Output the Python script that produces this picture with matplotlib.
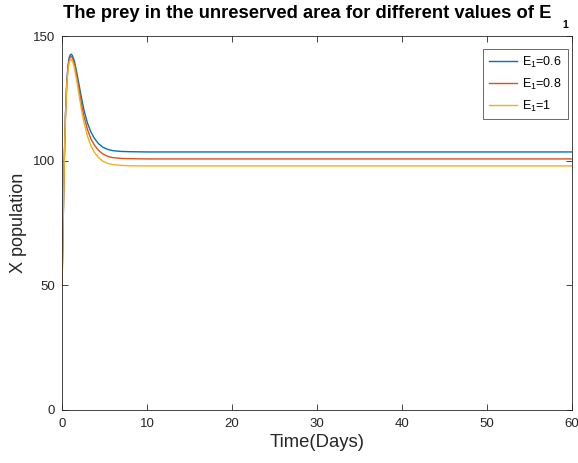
import numpy as np
import matplotlib.pyplot as plt

plt.rcParams['font.family'] = 'Liberation Sans'
plt.rcParams['mathtext.fontset'] = 'custom'
plt.rcParams['mathtext.rm'] = 'Liberation Sans'
plt.rcParams['mathtext.it'] = 'Liberation Sans:italic'
plt.rcParams['mathtext.bf'] = 'Liberation Sans:bold'

# prey X in the unreserved area, read at selected days
t = [0, 0.07, 0.15, 0.25, 0.4, 0.55, 0.7, 0.85, 1.0, 1.1, 1.25, 1.45, 1.7, 2.0, 2.3,
     2.6, 3.0, 3.4, 3.8, 4.3, 4.8, 5.4, 6.0, 7.0, 8.0, 10.0, 20.0, 40.0, 60.0]
x_e06 = [50, 63, 78, 98, 118, 131, 138, 141.5, 142.6, 142.7, 142, 140, 136, 130.5, 125,
         120, 115, 111.5, 109, 106.8, 105.4, 104.5, 104, 103.7, 103.6, 103.5, 103.5, 103.5, 103.5]
x_e08 = [50, 63, 78, 98, 117.5, 130.5, 137.5, 140.7, 141.7, 141.8, 141, 138.8, 134.5, 128.5, 122.5,
         117.5, 112.5, 108.7, 106.3, 104.1, 102.7, 101.7, 101.2, 100.9, 100.8, 100.7, 100.7, 100.7, 100.7]
x_e1 = [50, 63, 78, 97.5, 117, 129.5, 136.5, 139.6, 140.5, 140.6, 139.8, 137.4, 132.8, 126.5, 120.2,
        115, 109.8, 106, 103.4, 101.2, 99.8, 98.9, 98.4, 98.1, 97.95, 97.9, 97.9, 97.9, 97.9]

labels = [r'E$_{\mathregular{1}}$=0.6', r'E$_{\mathregular{1}}$=0.8', r'E$_{\mathregular{1}}$=1']
colors = ['#0072BD', '#D95319', '#EDB120']

fig = plt.figure(figsize=(5.78, 4.63), dpi=100)
ax = fig.add_axes([0.1073, 0.1145, 0.8823, 0.8077])

for y, lab, c in zip([x_e06, x_e08, x_e1], labels, colors):
    ax.plot(t, y, color=c, lw=1.0, label=lab)

ax.set_xlim(0, 60)
ax.set_ylim(0, 150)
ax.set_xticks([0, 10, 20, 30, 40, 50, 60])
ax.set_yticks([0, 50, 100, 150])
ax.tick_params(direction='in', top=True, right=True, labelsize=9.5, length=4,
               width=0.6, colors='#262626', labelcolor='#262626')
ax.tick_params(axis='x', pad=6)
ax.tick_params(axis='y', pad=5)
for s in ax.spines.values():
    s.set_linewidth(0.6)
    s.set_color('#262626')

ax.set_xlabel('Time(Days)', fontsize=13.3, color='#262626', labelpad=3)
ax.set_ylabel('X population', fontsize=13, color='#262626', labelpad=4)

# title with the MATLAB-style dropped subscript
title = ax.set_title('The prey in the unreserved area for different values of E',
                     fontsize=13.2, fontweight='bold', pad=13, x=0.48)
ax.annotate('1', xy=(1, 0), xycoords=title, xytext=(8, -4.5), textcoords='offset points',
            fontsize=7.5, fontweight='bold', ha='left', va='baseline')

leg = ax.legend(loc='upper right', bbox_to_anchor=(0.992, 0.965), borderaxespad=0,
                fontsize=9, frameon=True, fancybox=False, handlelength=2.3,
                labelspacing=0.55, handletextpad=0.4, borderpad=0.45)
leg.get_frame().set_edgecolor('#262626')
leg.get_frame().set_linewidth(0.6)

fig.savefig('out.png', dpi=100)
